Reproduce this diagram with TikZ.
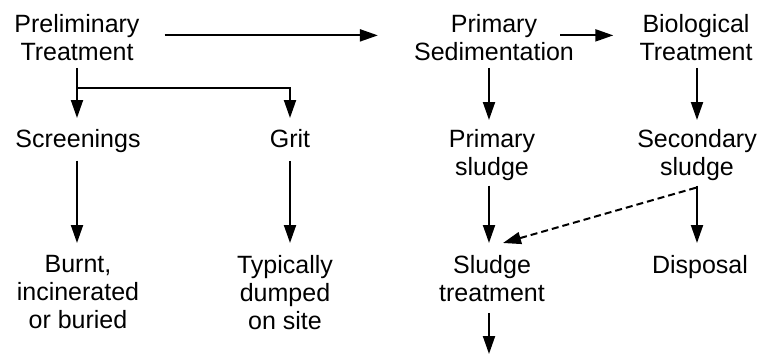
\documentclass[tikz,border=0pt]{standalone}
\usepackage{fontspec}
\setmainfont{Liberation Sans}
\usetikzlibrary{arrows.meta}
\tikzset{
  lbl/.style={inner sep=0pt, anchor=north, align=center, font=\fontsize{25}{28}\selectfont},
  arr/.style={line width=2pt, -{Triangle[length=18pt,width=12pt]}},
  ln/.style={line width=2pt},
  dsh/.style={arr, dash pattern=on 7pt off 4pt}
}
\begin{document}
\begin{tikzpicture}[x=1pt,y=-1pt]
\useasboundingbox (0,0) rectangle (765,356);
\node[lbl] (pre)  at (77,14)  {Preliminary\\Treatment};
\node[lbl] (ps)   at (494,14) {Primary\\Sedimentation};
\node[lbl] (bt)   at (696,14) {Biological\\Treatment};
\node[lbl] (scr)  at (78,129) {Screenings};
\node[lbl] (grit) at (290,129) {Grit};
\node[lbl] (psl)  at (492,129) {Primary\\sludge};
\node[lbl] (ssl)  at (697,129) {Secondary\\sludge};
\node[lbl] (burnt) at (78,255) {Burnt,\\incinerated\\or buried};
\node[lbl] (typ)  at (285,255) {Typically\\dumped\\on site};
\node[lbl] (sltr) at (492,255) {Sludge\\treatment};
\node[lbl] (disp) at (700,255) {Disposal};
\coordinate (out) at (489,354);
\coordinate (j) at ([yshift=-27pt]pre.south);
% main line
\draw[arr, shorten <=25pt, shorten >=36pt] ([yshift=2pt]pre.east) -- ([yshift=2pt]pre.east -| ps.west);
\draw[arr, shorten >=26pt] ([xshift=-14pt,yshift=2pt]ps.east) -- ([yshift=2pt]ps.east -| bt.west);
% preliminary branches
\draw[ln, shorten <=7pt] (pre.south) -- (j);
\draw[arr, shorten >=11pt] (j) -- (j |- scr.north);
\draw[arr, shorten >=11pt] (j) -| (grit.north);
\draw[arr, shorten <=8pt, shorten >=12pt] (scr.south -| j) -- (j |- burnt.north);
\draw[arr, shorten <=13pt, shorten >=12pt] (grit.south) -- (grit.south |- typ.north);
% right side
\draw[arr, shorten <=7pt, shorten >=9pt] ([xshift=-5pt]ps.south) -- ([xshift=-5pt]ps.south |- psl.north);
\draw[arr, shorten <=7pt, shorten >=9pt] (bt.south -| ssl.south) -- (ssl.north);
\draw[arr, shorten <=5pt, shorten >=12pt] ([xshift=-3pt]psl.south) -- ([xshift=-3pt]psl.south |- sltr.north);
\draw[arr, shorten <=5pt, shorten >=12pt] (ssl.south) -- (ssl.south |- disp.north);
\draw[dsh] ([xshift=-1pt,yshift=-7pt]ssl.south) -- ([xshift=11pt,yshift=12pt]sltr.north);
\draw[arr, shorten <=11pt] ([xshift=-3pt]sltr.south) -- (out);
\end{tikzpicture}
\end{document}
